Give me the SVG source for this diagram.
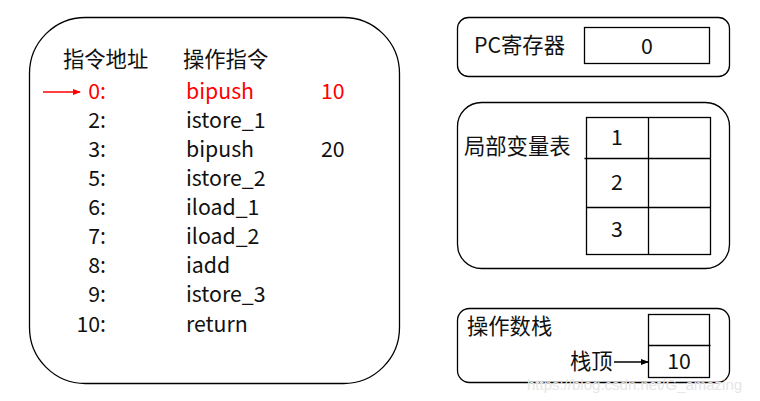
<svg xmlns="http://www.w3.org/2000/svg" width="760" height="401" viewBox="0 0 760 401">
<style>
.box{fill:#fff;stroke:#000;stroke-width:1.3}
.cell{fill:none;stroke:#000;stroke-width:1.3}
text{font-family:"Noto Sans CJK SC","Noto Sans",sans-serif;font-size:21.3px;fill:#111}
.red{fill:#f00}
.r{text-anchor:end}
.c{text-anchor:middle}
</style>
<defs>
<marker id="ah" markerWidth="8" markerHeight="8" refX="7" refY="4" orient="auto" markerUnits="userSpaceOnUse"><path d="M0,1 L8,4 L0,7 z" fill="#000"/></marker>
<marker id="ahr" markerWidth="8" markerHeight="8" refX="7" refY="4" orient="auto" markerUnits="userSpaceOnUse"><path d="M0,1 L8,4 L0,7 z" fill="#f00"/></marker>
</defs>
<rect width="760" height="401" fill="#fff"/>
<g id="code">
<rect class="box" x="29.5" y="17.5" width="370" height="366" rx="56" ry="56"/>
<text x="63" y="67">指令地址</text>
<text x="183" y="67">操作指令</text>
<g class="red">
<text class="r red" x="106" y="99">0:</text>
<text class="red" x="186" y="99">bipush</text>
<text class="red" x="321" y="99">10</text>
</g>
<text class="r" x="106" y="128">2:</text><text x="186" y="128">istore_1</text>
<text class="r" x="106" y="157">3:</text><text x="186" y="157">bipush</text><text x="321" y="157">20</text>
<text class="r" x="106" y="186">5:</text><text x="186" y="186">istore_2</text>
<text class="r" x="106" y="215">6:</text><text x="186" y="215">iload_1</text>
<text class="r" x="106" y="244">7:</text><text x="186" y="244">iload_2</text>
<text class="r" x="106" y="273">8:</text><text x="186" y="273">iadd</text>
<text class="r" x="106" y="302">9:</text><text x="186" y="302">istore_3</text>
<text class="r" x="106" y="332">10:</text><text x="186" y="332">return</text>
</g>
<g id="pc">
<rect class="box" x="457.5" y="17.5" width="272" height="59" rx="11" ry="11"/>
<text x="474" y="53">PC寄存器</text>
<rect class="cell" x="584.5" y="27.5" width="125" height="36"/>
<text class="c" x="647" y="54">0</text>
</g>
<g id="locals">
<rect class="box" x="457.5" y="102.5" width="272" height="166" rx="24" ry="24"/>
<text x="464" y="154">局部变量表</text>
<rect class="cell" x="586.5" y="117.5" width="124" height="137"/>
<line class="cell" x1="648.5" y1="117.5" x2="648.5" y2="254.5"/>
<line class="cell" x1="584.5" y1="158.5" x2="710.5" y2="158.5"/>
<line class="cell" x1="586.5" y1="207.5" x2="710.5" y2="207.5"/>
<text class="c" x="617" y="145">1</text>
<text class="c" x="617" y="190">2</text>
<text class="c" x="617" y="237">3</text>
</g>
<g id="stack">
<rect class="box" x="457.5" y="308.5" width="272" height="74" rx="12" ry="12"/>
<text x="467" y="334">操作数栈</text>
<rect class="cell" x="648.5" y="314.5" width="61" height="63"/>
<line class="cell" x1="648.5" y1="345.5" x2="710.5" y2="345.5"/>
<text class="c" x="679" y="369">10</text>
<text x="570" y="369">栈顶</text>
</g>
<g id="connectors">
<line x1="43" y1="92" x2="80" y2="92" stroke="#f00" stroke-width="1.3" marker-end="url(#ahr)"/>
<line x1="614" y1="362" x2="648" y2="362" stroke="#000" stroke-width="1.3" marker-end="url(#ah)"/>
</g>
<text x="527" y="390" style="font-size:15px;fill:#e6e6e6;font-family:'Liberation Sans',sans-serif">https://blog.csdn.net/G_amazing</text>
</svg>
